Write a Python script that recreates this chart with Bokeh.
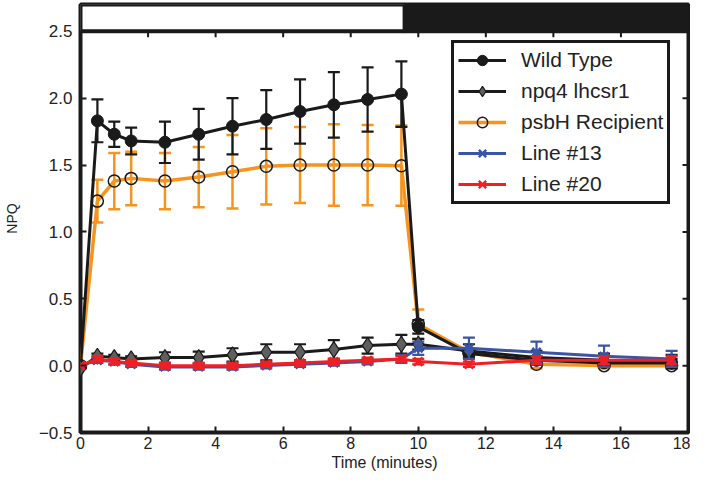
import math
from bokeh.plotting import figure
from bokeh.models import Range1d, FixedTicker, NumeralTickFormatter, Legend, LegendItem, ColumnDataSource
from bokeh.embed import file_html
from bokeh.resources import INLINE

# ---- data ----
t = [0, 0.5, 1, 1.5, 2.5, 3.5, 4.5, 5.5, 6.5, 7.5, 8.5, 9.5, 10, 11.5, 13.5, 15.5, 17.5]

wild_type = [0.0, 1.83, 1.73, 1.68, 1.67, 1.73, 1.79, 1.84, 1.90, 1.95, 1.99, 2.03, 0.29, 0.09, 0.04, 0.02, 0.02]
wild_type_err = [0.0, 0.16, 0.095, 0.10, 0.155, 0.19, 0.21, 0.22, 0.24, 0.245, 0.24, 0.245, 0.05, 0.03, 0.03, 0.02, 0.03]

npq4 = [-0.02, 0.07, 0.06, 0.05, 0.06, 0.06, 0.08, 0.10, 0.10, 0.12, 0.15, 0.16, 0.16, 0.11, 0.06, 0.04, 0.03]
npq4_err = [0.0, 0.02, 0.02, 0.02, 0.04, 0.045, 0.05, 0.06, 0.06, 0.07, 0.06, 0.07, 0.04, 0.05, 0.05, 0.05, 0.05]

psbh = [0.0, 1.23, 1.38, 1.40, 1.38, 1.41, 1.45, 1.49, 1.50, 1.50, 1.50, 1.495, 0.31, 0.10, 0.01, 0.0, 0.0]
psbh_err = [0.0, 0.16, 0.21, 0.20, 0.21, 0.225, 0.275, 0.285, 0.285, 0.305, 0.30, 0.30, 0.11, 0.03, 0.03, 0.02, 0.02]

line13 = [0.0, 0.04, 0.03, 0.01, -0.01, -0.01, -0.01, 0.0, 0.01, 0.02, 0.03, 0.05, 0.13, 0.13, 0.10, 0.07, 0.05]
line13_err = [0.0, 0.02, 0.02, 0.02, 0.02, 0.02, 0.02, 0.02, 0.02, 0.02, 0.02, 0.03, 0.05, 0.08, 0.08, 0.08, 0.06]

line20 = [0.0, 0.05, 0.03, 0.02, 0.0, 0.0, 0.0, 0.01, 0.02, 0.03, 0.04, 0.05, 0.03, 0.01, 0.04, 0.04, 0.04]
line20_err = [0.0, 0.02, 0.02, 0.02, 0.02, 0.02, 0.02, 0.02, 0.02, 0.02, 0.02, 0.02, 0.02, 0.02, 0.03, 0.03, 0.03]

x_ticks = [0, 2, 4, 6, 8, 10, 12, 14, 16, 18]
y_ticks = [-0.5, 0.0, 0.5, 1.0, 1.5, 2.0, 2.5]

# light (white) / dark (black) periods shown in the bar above the plot
period_start = [0, 9.6]
period_end = [9.6, 18]
period_colors = ["white", "#1a1a1a"]

FONT = "Liberation Sans"
DARK = "#1a1a1a"
ORANGE = "#F7941E"
BLUE = "#3B55A6"
RED = "#EE2024"

Y_MIN, Y_MAX = -0.5, 2.5
BAR_TOP = 2.70

p = figure(width=690, height=474, x_range=Range1d(0, 18), y_range=Range1d(Y_MIN, BAR_TOP),
           output_backend="svg", toolbar_location=None,
           min_border_left=78, min_border_right=2, min_border_top=4, min_border_bottom=42)
p.grid.visible = False
p.outline_line_color = DARK
p.outline_line_width = 4
p.outline_line_alpha = 1


def style_axis(ax):
    ax.axis_line_color = None
    ax.major_tick_in = 6
    ax.major_tick_out = 0
    ax.major_tick_line_width = 2
    ax.major_tick_line_color = DARK
    ax.minor_tick_line_color = None
    ax.major_label_text_font = FONT
    ax.major_label_text_color = "#222222"
    ax.major_label_text_font_size = "16px"
    ax.axis_label_text_font = FONT
    ax.axis_label_text_font_style = "normal"
    ax.axis_label_text_color = "#222222"


xax = p.xaxis[0]
xax.ticker = FixedTicker(ticks=x_ticks)
style_axis(xax)
xax.major_label_standoff = 4
xax.axis_label = "Time (minutes)"
xax.axis_label_text_font_size = "16px"
xax.axis_label_standoff = 2

yax = p.yaxis[0]
yax.ticker = FixedTicker(ticks=y_ticks)
yax.formatter = NumeralTickFormatter(format="0.0")
yax.major_label_overrides = {-0.5: "\u22120.5"}
style_axis(yax)
yax.major_label_text_font_size = "17px"
yax.major_label_standoff = 8
yax.axis_label = "NPQ"
yax.axis_label_text_font_size = "14px"
yax.axis_label_standoff = 16

# inward ticks on the right edge and under the light/dark bar
p.scatter(x=[x_ticks[-1]] * len(y_ticks), y=y_ticks, marker="dash", size=12,
          line_color=DARK, line_width=2)
p.scatter(x=x_ticks, y=[Y_MAX] * len(x_ticks), marker="dash", angle=math.pi / 2, size=12,
          line_color=DARK, line_width=2)


def series(values, errs, color, line_width, marker, msize, mfill, mline, mlw, bar_lw=2.2):
    lo = [v - e for v, e in zip(values, errs)]
    hi = [v + e for v, e in zip(values, errs)]
    src = ColumnDataSource(dict(t=t, v=values, lo=lo, hi=hi))
    p.segment(x0="t", y0="lo", x1="t", y1="hi", source=src, line_color=color, line_width=bar_lw)
    p.scatter(x="t", y="hi", source=src, marker="dash", size=12, line_color=color, line_width=bar_lw)
    p.scatter(x="t", y="lo", source=src, marker="dash", size=12, line_color=color, line_width=bar_lw)
    ln = p.line(x="t", y="v", source=src, line_color=color, line_width=line_width)
    mk = p.scatter(x="t", y="v", source=src, marker=marker, size=msize,
                   fill_color=mfill, line_color=mline, line_width=mlw)
    return ln, mk


psbh_r = series(psbh, psbh_err, ORANGE, 3.5, "circle", 12, None, DARK, 1.5, bar_lw=2.5)
wt_r = series(wild_type, wild_type_err, DARK, 3, "circle", 12, DARK, DARK, 1)
npq4_r = series(npq4, npq4_err, DARK, 3, "diamond", 16, "#5f5f5f", DARK, 1.2)
l13_r = series(line13, line13_err, BLUE, 3, "x", 12, None, BLUE, 2.5)
l20_r = series(line20, line20_err, RED, 3, "x", 12, None, RED, 2.5)

# the light/dark bar, drawn over the upper halves of the top ticks
p.quad(left=period_start, right=period_end, bottom=Y_MAX, top=BAR_TOP,
       fill_color=period_colors, line_color=DARK, line_width=4)

legend = Legend(items=[
    LegendItem(label="Wild Type", renderers=list(wt_r)),
    LegendItem(label="npq4 lhcsr1", renderers=list(npq4_r)),
    LegendItem(label="psbH Recipient", renderers=list(psbh_r)),
    LegendItem(label="Line #13", renderers=list(l13_r)),
    LegendItem(label="Line #20", renderers=list(l20_r)),
], location=(371, 228))
legend.padding = 4
legend.spacing = 5
legend.glyph_width = 48
legend.glyph_height = 26
legend.label_standoff = 15
legend.label_text_font = FONT
legend.label_text_font_size = "21px"
legend.label_text_color = "#222222"
legend.border_line_color = DARK
legend.border_line_width = 3
legend.border_line_alpha = 1
legend.background_fill_color = "white"
legend.background_fill_alpha = 1
p.add_layout(legend, "center")

open("out.html", "w").write(file_html(p, INLINE))
